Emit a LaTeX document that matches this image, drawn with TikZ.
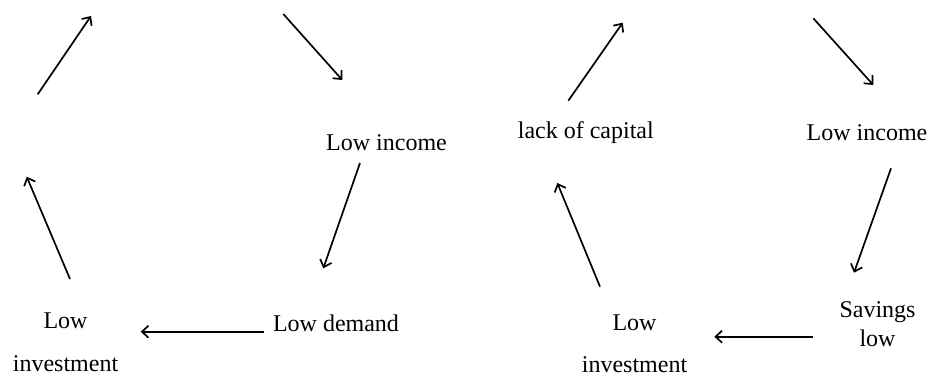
\documentclass[tikz,border=0pt]{standalone}
\usepackage{fontspec}
\setmainfont{Liberation Serif}
\usetikzlibrary{arrows.meta}
\begin{document}
\begin{tikzpicture}[x=1pt,y=-1pt,
  lbl/.style={inner sep=0pt,anchor=base,font=\fontsize{24}{28}\selectfont},
  mlbl/.style={inner sep=0pt,anchor=north,align=center},
  arr/.style={line width=1.7pt,-{Straight Barb[length=6.5pt,width=12pt,line width=1.7pt]}}]
\useasboundingbox (0,0) rectangle (933,376);
% labels, left cycle
\node[lbl] (li1) at (386.5,150) {Low income};
\node[lbl] (ld) at (336,331.7) {Low demand};
\node[mlbl,font=\fontsize{24}{42.5}\selectfont] (inv1) at (65.5,313) {Low\\investment};
% labels, right cycle
\node[lbl] (lc) at (585.8,138.3) {lack of capital};
\node[lbl] (li2) at (867,140) {Low income};
\node[mlbl,font=\fontsize{24}{28.4}\selectfont] (sl) at (877.5,301.5) {Savings\\low};
\node[mlbl,font=\fontsize{24}{41.3}\selectfont] (inv2) at (634.5,314.8) {Low\\investment};
% arrow end points, left cycle
\coordinate (a1s) at (37.7,94.3);  \coordinate (a1e) at (91,16);
\coordinate (a2s) at (283.3,14);   \coordinate (a2e) at (342.3,80);
\coordinate (a3s) at (360,163);    \coordinate (a3e) at (323.3,268.3);
\coordinate (a4s) at (70,279);     \coordinate (a4e) at (26.7,176.7);
\coordinate (h1s) at (264.3,331.7);\coordinate (h1e) at (140.7,331.7);
% arrow end points, right cycle
\coordinate (a5s) at (568.3,100.7);\coordinate (a5e) at (622.7,22.7);
\coordinate (a6s) at (813.3,18.3); \coordinate (a6e) at (873.3,85);
\coordinate (a7s) at (891,168.3);  \coordinate (a7e) at (854,272.7);
\coordinate (a8s) at (600,286.7);  \coordinate (a8e) at (557.3,183);
\coordinate (h2s) at (813.3,336.7);\coordinate (h2e) at (714.3,336.7);
\foreach \a in {a1,a2,a3,a4,h1,a5,a6,a7,a8,h2}
  \draw[arr] (\a s) -- (\a e);
\end{tikzpicture}
\end{document}
